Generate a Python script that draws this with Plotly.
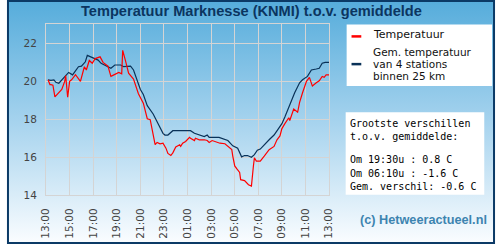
import base64
from datetime import datetime, timedelta
import plotly.graph_objects as go

# ---------------- data ----------------
red_times = ["13:10", "13:20", "13:25", "13:35", "13:45", "14:20", "14:35", "14:40", "14:50",
             "15:00", "15:10", "15:30", "15:55", "16:15", "16:25", "16:40", "16:55", "17:10",
             "17:35", "17:50", "18:15", "18:30", "18:45", "19:10", "19:25", "19:30", "19:45",
             "20:00", "20:25", "20:50", "21:15", "21:35", "21:50", "22:15", "22:25", "22:40",
             "22:55", "23:10", "23:20", "23:35", "23:45", "00:00", "00:20", "00:25", "00:35",
             "00:50", "01:10", "01:15", "01:35", "01:40", "02:00", "02:25", "02:40", "02:50",
             "03:05", "03:30", "03:45", "04:10", "04:25", "04:45", "04:50", "05:00", "05:10",
             "05:25", "05:30", "05:50", "06:10", "06:25", "06:35", "06:40", "06:50", "07:10",
             "07:30", "07:55", "08:20", "08:35", "08:50", "09:00", "09:15", "09:35", "09:40",
             "10:00", "10:20", "10:30", "10:45", "11:05", "11:20", "11:35", "11:55", "12:10",
             "12:25", "12:35", "12:45", "13:00"]
red_temp = [20.08, 19.83, 19.83, 19.80, 19.18, 19.57, 20.00, 20.30, 19.16,
            20.00, 20.08, 20.35, 20.00, 20.77, 20.60, 21.10, 20.95, 21.20,
            21.29, 21.00, 20.80, 20.26, 20.34, 20.47, 20.40, 21.63, 21.05,
            20.43, 20.12, 19.35, 18.85, 18.03, 17.98, 16.66, 16.78, 16.71,
            16.74, 16.48, 16.20, 16.09, 16.23, 16.54, 16.66, 16.57, 16.74,
            16.83, 17.05, 17.00, 16.88, 17.00, 16.92, 16.92, 16.88, 16.78,
            16.88, 16.78, 16.74, 16.71, 16.57, 16.40, 16.06, 15.54, 15.40,
            15.20, 14.82, 14.77, 14.55, 14.48, 15.54, 15.97, 15.80, 15.80,
            16.06, 16.40, 16.57, 16.92, 17.12, 17.51, 17.77, 18.08, 17.94,
            18.54, 18.37, 18.89, 19.40, 20.00, 20.21, 19.75, 19.92, 20.03,
            20.26, 20.21, 20.34, 20.34]

blue_times = ["13:10", "13:25", "13:40", "13:50", "14:05", "14:20", "14:40", "14:55", "15:15",
              "15:30", "15:45", "16:00", "16:20", "16:30", "16:50", "17:05", "17:25", "17:40",
              "18:00", "18:15", "18:30", "18:50", "19:20", "19:35", "19:55", "20:10", "20:25",
              "20:45", "21:00", "21:15", "21:35", "22:05", "22:30", "22:55", "23:05", "23:20",
              "23:45", "01:15", "01:35", "02:00", "02:25", "02:40", "02:50", "03:40", "04:10",
              "04:25", "04:50", "05:15", "05:35", "05:50", "06:05", "06:25", "06:40", "06:55",
              "07:10", "07:30", "07:55", "08:20", "08:45", "09:00", "09:15", "09:35", "09:50",
              "10:05", "10:30", "10:45", "11:10", "11:30", "11:55", "12:10", "12:25", "12:40",
              "13:00"]
blue_temp = [20.08, 20.05, 20.08, 19.95, 19.90, 20.08, 20.30, 20.47, 20.34,
             20.57, 20.77, 20.80, 21.03, 21.37, 21.29, 21.20, 21.12, 20.95,
             20.86, 20.80, 20.69, 20.86, 20.86, 20.77, 20.77, 20.80, 20.60,
             20.00, 19.57, 19.31, 18.72, 18.28, 17.77, 17.26, 17.17, 17.17,
             17.40, 17.40, 17.26, 17.17, 17.09, 17.17, 17.05, 17.05, 16.92,
             16.88, 16.60, 16.48, 16.02, 16.09, 16.09, 16.00, 16.14, 16.37,
             16.43, 16.66, 16.92, 17.17, 17.51, 17.77, 18.12, 18.63, 19.06,
             19.40, 19.92, 20.08, 20.26, 20.60, 20.65, 20.69, 20.95, 21.00,
             21.00]

x_tick_labels = ["13:00", "15:00", "17:00", "19:00", "21:00", "23:00", "01:00",
                 "03:00", "05:00", "07:00", "09:00", "11:00", "13:00"]
y_ticks = [14, 16, 18, 20, 22]

title_text = "Temperatuur Marknesse (KNMI) t.o.v. gemiddelde"
legend_red = ["Temperatuur"]
legend_blue = ["Gem. temperatuur", "van 4 stations", "binnen 25 km"]
stats_lines = ["Grootste verschillen", "t.o.v. gemiddelde:", "",
               "Om 19:30u : 0.8 C", "Om 06:10u : -1.6 C", "Gem. verschil: -0.6 C"]
credit = "(c) Hetweeractueel.nl"

# ---------------- helpers ----------------
BASE = datetime(2024, 6, 1, 0, 0)


def to_dt(times, start_day=0):
    out, day, prev = [], start_day, None
    for t in times:
        if prev is not None and t < prev:
            day += 1
        prev = t
        h, m = map(int, t.split(":"))
        out.append(BASE + timedelta(days=day, hours=h, minutes=m))
    return out


red_x = to_dt(red_times)
blue_x = to_dt(blue_times)
tick_x = to_dt(x_tick_labels)

W, H = 500, 250


def px(x):
    return x / W


def py(y):
    return 1 - y / H


fig = go.Figure()
fig.add_trace(go.Scatter(x=blue_x, y=blue_temp, mode="lines",
                         line=dict(color="#0a3258", width=1.2), showlegend=False,
                         hoverinfo="skip"))
fig.add_trace(go.Scatter(x=red_x, y=red_temp, mode="lines",
                         line=dict(color="#ff0000", width=1.2), showlegend=False,
                         hoverinfo="skip"))

# background gradient
svg = ('<svg xmlns="http://www.w3.org/2000/svg" width="500" height="250">'
       '<defs><linearGradient id="g" x1="0" y1="0" x2="0" y2="1">'
       '<stop offset="0" stop-color="#55acdb"/>'
       '<stop offset="0.5" stop-color="#a6d3ee"/>'
       '<stop offset="1" stop-color="#fbfdff"/>'
       '</linearGradient></defs>'
       '<rect width="500" height="250" fill="url(#g)"/></svg>')
src = "data:image/svg+xml;base64," + base64.b64encode(svg.encode()).decode()

shapes = [
    # legend box
    dict(type="rect", xref="paper", yref="paper", x0=px(348), x1=px(497), y0=py(88), y1=py(25),
         fillcolor="white", line=dict(width=0), layer="below"),
    # stats box
    dict(type="rect", xref="paper", yref="paper", x0=px(347), x1=px(489), y0=py(199.5), y1=py(115),
         fillcolor="white", line=dict(width=0), layer="below"),
    # legend line samples
    dict(type="line", xref="paper", yref="paper", x0=px(353), x1=px(363), y0=py(37.3), y1=py(37.3),
         line=dict(color="#ff0000", width=2.5)),
    dict(type="line", xref="paper", yref="paper", x0=px(353), x1=px(363), y0=py(65.7), y1=py(65.7),
         line=dict(color="#0a3258", width=2.5)),
    # outer border
    dict(type="rect", xref="paper", yref="paper", x0=px(1), x1=px(499), y0=py(249), y1=py(1),
         line=dict(color="#0b3a66", width=2), fillcolor="rgba(0,0,0,0)"),
]

annotations = [
    dict(text="<b>" + title_text + "</b>", xref="paper", yref="paper", x=px(250), y=py(11.5),
         xanchor="center", yanchor="middle", showarrow=False,
         font=dict(family="Liberation Sans, Arial", size=14.6, color="#0b3560")),
    dict(text="<b>" + credit + "</b>", xref="paper", yref="paper", x=px(360), y=py(225),
         xanchor="left", yanchor="middle", showarrow=False,
         font=dict(family="Liberation Sans, Arial", size=12.7, color="#3d84b0")),
]
annotations.append(dict(text=legend_red[0], xref="paper", yref="paper", x=px(372.5), y=py(35.5),
                        xanchor="left", yanchor="middle", showarrow=False,
                        font=dict(family="DejaVu Sans", size=11, color="#111111")))
for i, line in enumerate(legend_blue):
    annotations.append(dict(text=line, xref="paper", yref="paper", x=px(372.5), y=py(53.4 + 12.3 * i),
                            xanchor="left", yanchor="middle", showarrow=False,
                            font=dict(family="DejaVu Sans", size=10.5, color="#111111")))
stats_y = [126.3, 140.0, 152.0, 163.7, 177.5, 190.7]
for line, yy in zip(stats_lines, stats_y):
    if not line:
        continue
    annotations.append(dict(text=line, xref="paper", yref="paper", x=px(349), y=py(yy),
                            xanchor="left", yanchor="middle", showarrow=False,
                            font=dict(family="DejaVu Sans Mono", size=10, color="#000000")))

fig.update_layout(
    width=W, height=H,
    margin=dict(l=0, r=0, t=0, b=0),
    paper_bgcolor="white",
    plot_bgcolor="white",
    showlegend=False,
    images=[dict(source=src, xref="paper", yref="paper", x=0, y=1, sizex=1, sizey=1,
                 sizing="stretch", xanchor="left", yanchor="top", layer="below")],
    shapes=shapes,
    annotations=annotations,
    xaxis=dict(domain=[px(40), px(330)], range=[tick_x[0], tick_x[-1]],
               tickvals=tick_x, ticktext=x_tick_labels, tickangle=-90,
               showgrid=True, gridcolor="#d4d4d4", gridwidth=1,
               showline=True, linecolor="#d4d4d4", linewidth=1, mirror=True,
               ticks="", ticklabelstandoff=8, zeroline=False,
               tickfont=dict(family="DejaVu Sans", size=10.5, color="#444444")),
    yaxis=dict(domain=[py(200), py(25)], range=[14, 23], tickvals=y_ticks,
               showgrid=True, gridcolor="#d4d4d4", gridwidth=1,
               showline=True, linecolor="#d4d4d4", linewidth=1, mirror=True,
               ticks="", ticklabelstandoff=6, zeroline=False,
               tickfont=dict(family="DejaVu Sans", size=10.5, color="#444444")),
)

fig.write_html("out.html")
